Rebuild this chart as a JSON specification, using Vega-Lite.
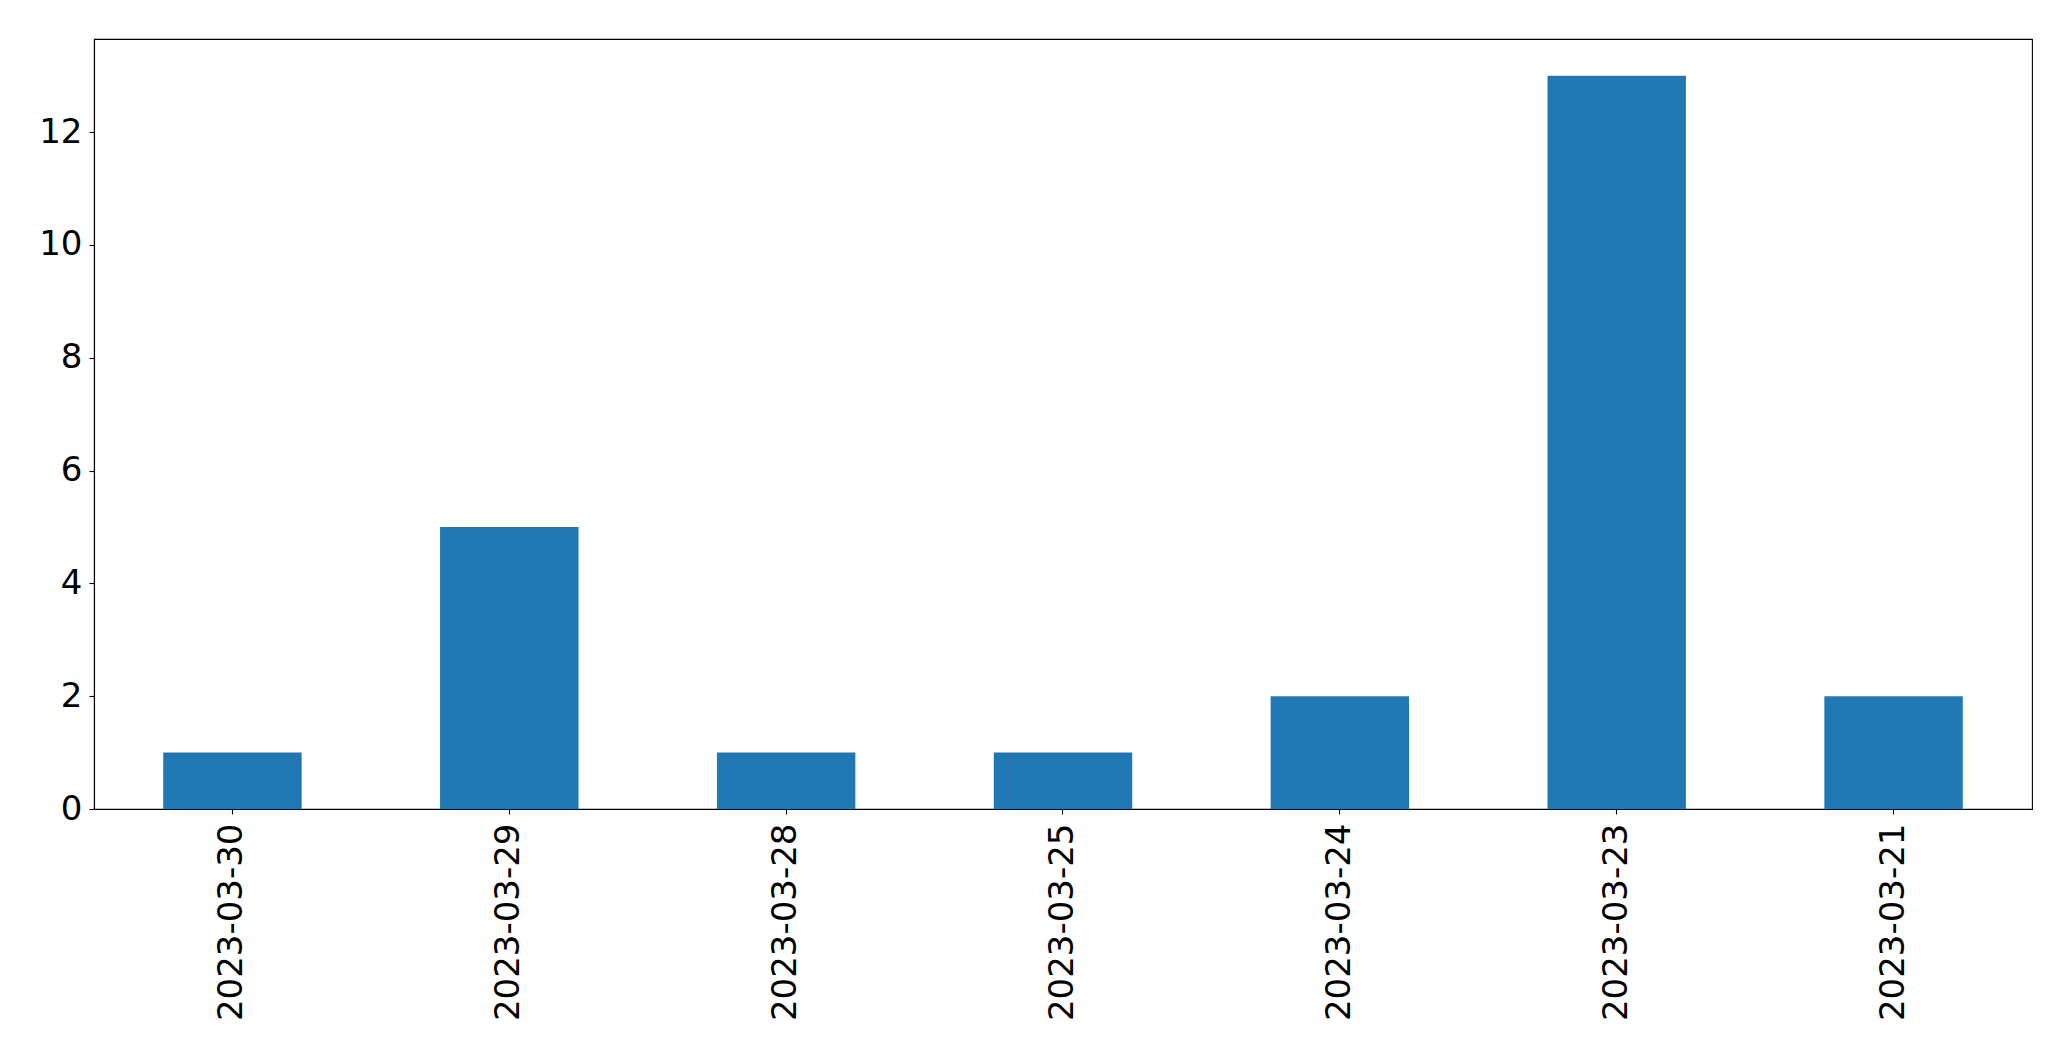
{
  "$schema": "https://vega.github.io/schema/vega-lite/v6.json",
  "width": 1938,
  "height": 770,
  "autosize": "none",
  "padding": {"left": 94, "top": 39, "right": 39, "bottom": 252},
  "background": "white",
  "config": {
    "view": {"stroke": "black", "strokeWidth": 1.1},
    "axis": {
      "labelFont": "DejaVu Sans",
      "labelFontSize": 34,
      "labelColor": "black",
      "labelLimit": 0,
      "domainColor": "black",
      "domainWidth": 1.1,
      "tickColor": "black",
      "tickWidth": 1.1,
      "tickSize": 5,
      "grid": false,
      "title": null
    }
  },
  "data": {
    "values": [
      {"date": "2023-03-30", "count": 1},
      {"date": "2023-03-29", "count": 5},
      {"date": "2023-03-28", "count": 1},
      {"date": "2023-03-25", "count": 1},
      {"date": "2023-03-24", "count": 2},
      {"date": "2023-03-23", "count": 13},
      {"date": "2023-03-21", "count": 2}
    ]
  },
  "mark": {"type": "bar", "color": "#1f77b4"},
  "encoding": {
    "x": {
      "field": "date",
      "type": "nominal",
      "sort": null,
      "scale": {"paddingInner": 0.5, "paddingOuter": 0.25},
      "axis": {"labelAngle": -90, "labelAlign": "right", "labelBaseline": "middle", "labelPadding": 9, "labelLimit": 0}
    },
    "y": {
      "field": "count",
      "type": "quantitative",
      "scale": {"domain": [0, 13.65], "nice": false, "zero": true},
      "axis": {"values": [0, 2, 4, 6, 8, 10, 12], "labelPadding": 7}
    }
  }
}
